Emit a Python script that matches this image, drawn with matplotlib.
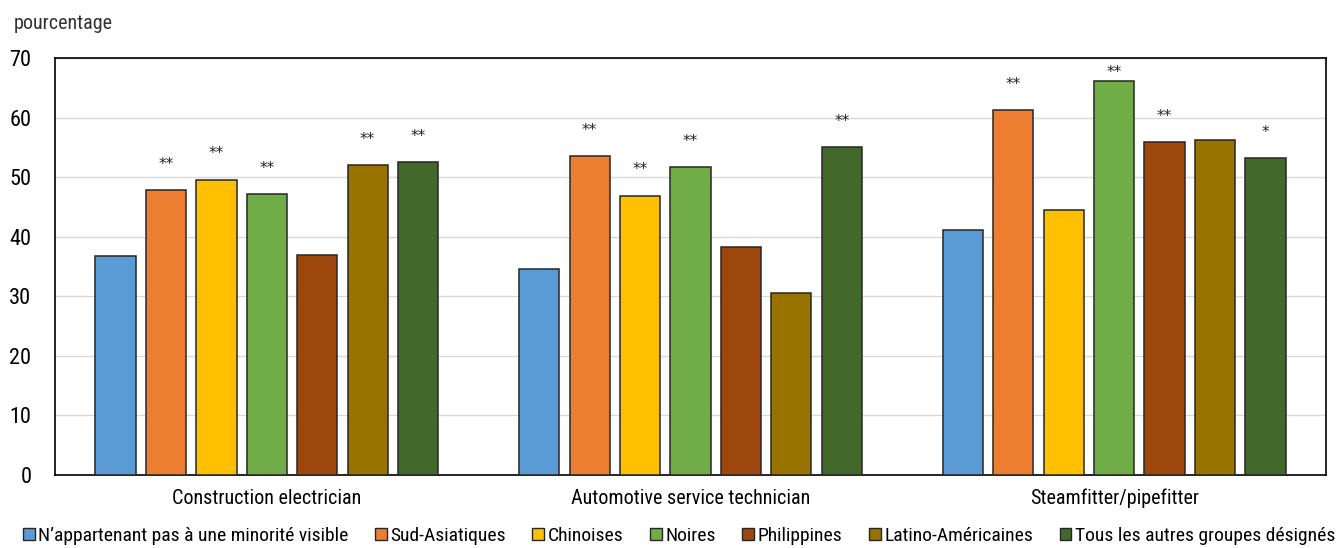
import numpy as np
import matplotlib
matplotlib.use('Agg')
import matplotlib.pyplot as plt
from matplotlib.patches import Patch

plt.rcParams['font.family'] = ['Roboto Condensed', 'Liberation Sans', 'DejaVu Sans']

categories = ['Construction electrician', 'Automotive service technician', 'Steamfitter/pipefitter']
groups = ['N\u2019appartenant pas à une minorité visible', 'Sud-Asiatiques', 'Chinoises', 'Noires',
          'Philippines', 'Latino-Américaines', 'Tous les autres groupes désignés']
colors = ['#5B9BD5', '#ED7D31', '#FFC000', '#70AD47', '#9E480E', '#997300', '#43682B']

non_minorite = [36.7, 34.5, 41.1]
sud_asiatiques = [47.8, 53.5, 61.3]
chinoises = [49.6, 46.9, 44.5]
noires = [47.2, 51.7, 66.1]
philippines = [37.0, 38.2, 55.9]
latino = [52.0, 30.6, 56.2]
autres = [52.6, 55.0, 53.2]
values = [non_minorite, sud_asiatiques, chinoises, noires, philippines, latino, autres]

# significativité
stars = [['', '', ''],
         ['**', '**', '**'],
         ['**', '**', ''],
         ['**', '**', '**'],
         ['', '', '**'],
         ['**', '', ''],
         ['**', '**', '*']]

fig = plt.figure(figsize=(13.37, 5.48), dpi=100)
ax = fig.add_axes([0.0411, 0.1332, 0.9507, 0.761])

x = np.arange(len(categories))
step = 0.119
width = 0.095
for i, (vals, c) in enumerate(zip(values, colors)):
    pos = x + (i - 3) * step
    ax.bar(pos, vals, width, color=c, edgecolor='#262626', linewidth=1.1, zorder=3)
    for p, v, s in zip(pos, vals, stars[i]):
        if s:
            ax.text(p, min(v + 4.3, 67.6), s, ha='center', va='center', fontsize=11,
                    color='#222222', family='DejaVu Sans')

ax.set_xlim(-0.5, 2.5)
ax.set_ylim(0, 70)
ax.set_yticks(range(0, 71, 10))
ax.set_xticks(x)
ax.set_xticklabels(categories, fontsize=14.5)
ax.tick_params(axis='y', labelsize=16, length=0, pad=17)
ax.tick_params(axis='x', length=0, pad=10)
ax.grid(axis='y', color='#d9d9d9', linewidth=1, zorder=0)
for sp in ax.spines.values():
    sp.set_color('black')
    sp.set_linewidth(1.2)

fig.text(0.010, 0.958, 'pourcentage', fontsize=14.5, color='#333333', va='center')

handles = [Patch(facecolor=c, edgecolor='#262626', linewidth=1) for c in colors]
fig.legend(handles, groups, loc='center', bbox_to_anchor=(0.508, 0.022), ncol=7, frameon=False,
           fontsize=14, handlelength=0.6, handleheight=0.6, handletextpad=0.2,
           columnspacing=1.35, borderpad=0)

fig.savefig('out.png', dpi=100)
